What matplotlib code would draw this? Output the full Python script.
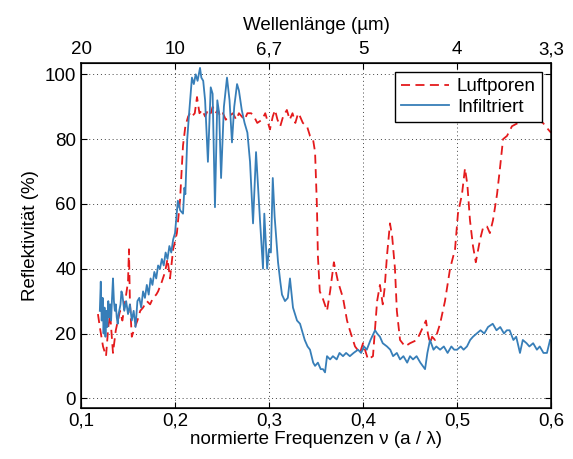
import matplotlib.pyplot as plt

plt.rcParams['font.family'] = ['Liberation Sans', 'DejaVu Sans']
plt.rcParams['font.size'] = 13.5

# Infiltriert (blue, solid)
blue_nu = [0.120, 0.121, 0.122, 0.123, 0.124, 0.125, 0.126, 0.127, 0.128, 0.129,
           0.130, 0.131, 0.132, 0.133, 0.134, 0.135, 0.136, 0.137, 0.138, 0.139,
           0.140, 0.142, 0.143, 0.144, 0.146, 0.148, 0.150, 0.152, 0.154, 0.156,
           0.158, 0.160, 0.162, 0.164, 0.166, 0.168, 0.170, 0.172, 0.174, 0.176,
           0.178, 0.180, 0.182, 0.184, 0.186, 0.188, 0.190, 0.192, 0.194, 0.196,
           0.198, 0.200, 0.203, 0.2055, 0.2085, 0.210, 0.211, 0.213, 0.215, 0.218,
           0.220, 0.222, 0.224, 0.2266, 0.228, 0.230, 0.232, 0.235, 0.238, 0.240,
           0.2425, 0.245, 0.247, 0.249, 0.252, 0.2553, 0.258, 0.2606, 0.263, 0.266,
           0.268, 0.271, 0.274, 0.277, 0.2798, 0.283, 0.2862, 0.2904, 0.2936, 0.295,
           0.298, 0.300, 0.302, 0.304, 0.306, 0.3096, 0.312, 0.3138, 0.317, 0.320,
           0.3223, 0.3255, 0.3298, 0.333, 0.336, 0.338, 0.341, 0.3436, 0.347, 0.349,
           0.352, 0.355, 0.3574, 0.3596, 0.3617, 0.365, 0.368, 0.372, 0.375, 0.3787,
           0.382, 0.386, 0.390, 0.3947, 0.398, 0.401, 0.404, 0.408, 0.4128, 0.415,
           0.418, 0.421, 0.4255, 0.429, 0.432, 0.436, 0.4394, 0.443, 0.447, 0.450,
           0.4532, 0.457, 0.461, 0.466, 0.4685, 0.4713, 0.475, 0.478, 0.482, 0.486,
           0.490, 0.494, 0.497, 0.500, 0.504, 0.507, 0.5106, 0.514, 0.517, 0.521,
           0.525, 0.529, 0.533, 0.538, 0.542, 0.546, 0.550, 0.553, 0.556, 0.560,
           0.563, 0.567, 0.570, 0.574, 0.577, 0.581, 0.585, 0.588, 0.592, 0.5957,
           0.599]
blue_r = [27, 36, 24, 31, 20, 28, 19, 27, 22, 30,
          25, 29, 24, 31, 37, 30, 27, 29, 25, 23,
          26, 29, 33, 32, 27, 30, 26, 29, 24, 27,
          22, 30, 31, 28, 33, 31, 35, 32, 37, 35,
          39, 37, 41, 40, 43, 41, 45, 43, 47, 45,
          49, 51, 61, 58, 57, 65, 63, 80, 88, 99,
          97, 100, 98, 102, 99, 98, 92, 73, 96, 94,
          59, 92, 88, 68, 90, 99, 92, 79, 90, 97,
          95, 89, 85, 82, 73, 54, 76, 55, 40, 57,
          40, 46, 45, 68, 56, 42, 36, 32, 30, 31,
          37, 28, 24, 23, 20, 18, 16, 15, 11, 10,
          11, 9, 9, 8, 13, 12, 13, 12, 14, 13,
          14, 13, 14, 15, 14, 16, 15, 18, 21, 20,
          19, 17, 16, 15, 13, 14, 12, 13, 11, 13,
          12, 13, 11, 9, 14, 18, 15, 16, 15, 16,
          14, 16, 15, 15, 16, 15, 16, 18, 19, 20,
          21, 20, 22, 23, 21, 22, 20, 21, 21, 18,
          19, 14, 18, 17, 16, 17, 15, 16, 14, 14,
          18]

# Luftporen (red, dashed)
red_nu = [0.118, 0.120, 0.1234, 0.1266, 0.129, 0.131, 0.134, 0.137, 0.1415, 0.144,
          0.147, 0.150, 0.151, 0.152, 0.154, 0.1574, 0.160, 0.163, 0.166, 0.170,
          0.1735, 0.1766, 0.180, 0.182, 0.186, 0.1894, 0.192, 0.1947, 0.198, 0.202,
          0.2053, 0.2085, 0.211, 0.214, 0.216, 0.218, 0.221, 0.2234, 0.226, 0.229,
          0.232, 0.235, 0.238, 0.240, 0.243, 0.2457, 0.248, 0.251, 0.254, 0.257,
          0.2617, 0.265, 0.268, 0.271, 0.274, 0.277, 0.281, 0.284, 0.2875, 0.2926,
          0.296, 0.298, 0.301, 0.304, 0.3064, 0.309, 0.312, 0.315, 0.319, 0.322,
          0.325, 0.328, 0.331, 0.333, 0.336, 0.3404, 0.3436, 0.3468, 0.349, 0.351,
          0.352, 0.354, 0.357, 0.3617, 0.365, 0.369, 0.3734, 0.3787, 0.383, 0.386,
          0.3915, 0.3968, 0.400, 0.4053, 0.4106, 0.415, 0.418, 0.421, 0.423, 0.4255,
          0.4287, 0.431, 0.434, 0.436, 0.4394, 0.4447, 0.450, 0.4574, 0.4638, 0.467,
          0.469, 0.4713, 0.4735, 0.4766, 0.482, 0.4872, 0.4926, 0.4979, 0.501, 0.5053,
          0.5085, 0.511, 0.5138, 0.517, 0.520, 0.5245, 0.528, 0.532, 0.535, 0.5383,
          0.5426, 0.5457, 0.549, 0.5532, 0.5585, 0.565, 0.575, 0.585, 0.5915, 0.597,
          0.600]
red_r = [26, 22, 16, 13, 22, 26, 14, 21, 27, 24,
         30, 36, 46, 30, 19, 22, 24, 27, 28, 30,
         29, 31, 32, 33, 36, 39, 43, 37, 46, 51,
         61, 78, 84, 87, 88, 87, 88, 93, 88, 89,
         87, 89, 88, 90, 88, 89, 87, 88, 86, 87,
         88, 86, 88, 87, 86, 88, 88, 87, 85, 86,
         88, 86, 83, 87, 89, 86, 84, 87, 89, 86,
         88, 85, 88, 87, 85, 84, 81, 80, 76, 59,
         44, 33, 31, 27, 33, 42, 36, 31, 24, 21,
         16, 14, 17, 12, 13, 30, 35, 29, 34, 44,
         54, 50, 40, 27, 18, 16, 17, 18, 22, 24,
         20, 17, 19, 18, 23, 30, 40, 46, 57, 63,
         71, 66, 55, 47, 42, 49, 53, 53, 51, 55,
         63, 71, 80, 81, 84, 85, 86, 86, 85, 83,
         82]

x_ticks = [0.1, 0.2, 0.3, 0.4, 0.5, 0.6]
x_labels = ['0,1', '0,2', '0,3', '0,4', '0,5', '0,6']
top_labels = ['20', '10', '6,7', '5', '4', '3,3']
y_ticks = [0, 20, 40, 60, 80, 100]

fig = plt.figure(figsize=(5.73, 4.59), dpi=100)
ax = fig.add_axes([0.1414, 0.1111, 0.8202, 0.7516])

ax.plot(red_nu, red_r, color='#e41a1c', lw=1.3, dashes=(5, 3), label='Luftporen')
ax.plot(blue_nu, blue_r, color='#377eb8', lw=1.3, label='Infiltriert')

ax.set_xlim(0.1, 0.6)
ax.set_ylim(-3, 103.5)
ax.set_xticks(x_ticks)
ax.set_xticklabels(x_labels)
ax.set_yticks(y_ticks)
ax.grid(True, color='#444444', linestyle=(0, (1, 3)), lw=0.7)
ax.tick_params(direction='in', top=False, right=True, length=4)
ax.set_xlabel('normierte Frequenzen ν (a / λ)', labelpad=1)
ax.set_ylabel('Reflektivität (%)')
for s in ax.spines.values():
    s.set_linewidth(1.1)

ax2 = ax.twiny()
ax2.set_xlim(0.1, 0.6)
ax2.set_xticks(x_ticks)
ax2.set_xticklabels(top_labels)
ax2.tick_params(direction='in', length=4)
ax2.set_xlabel('Wellenlänge (µm)', labelpad=8)

leg = ax.legend(loc='upper right', fancybox=False, edgecolor='black',
                framealpha=1, borderaxespad=0.5, handlelength=2.6,
                borderpad=0.3, labelspacing=0.2, handletextpad=0.4)
leg.get_frame().set_linewidth(1.0)

fig.savefig('out.png', dpi=100)
